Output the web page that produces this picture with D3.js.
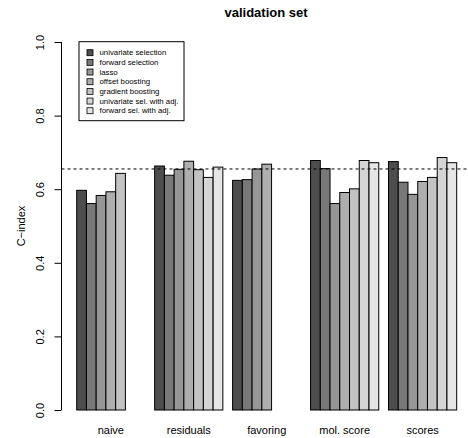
<!DOCTYPE html>
<html>
<head>
<meta charset="utf-8">
<script src="https://cdn.jsdelivr.net/npm/d3@7"></script>
<style>
  body { margin: 0; background: #fff; }
  svg { display: block; font-family: "Liberation Sans", Arial, sans-serif; }
</style>
</head>
<body>
<div id="chart"></div>
<script>
// groups on the x axis
const groups = ["naive", "residuals", "favoring", "mol. score", "scores"];
// methods (one bar per method in each group)
const methods = [
    "univariate selection", "forward selection", "lasso", "offset boosting",
    "gradient boosting", "univariate sel. with adj.", "forward sel. with adj."
];
const greys = ["#4d4d4d", "#787878", "#969696", "#aeaeae", "#c3c3c3", "#d5d5d5", "#e6e6e6"];
// C-index per group, null = method not available
const naive     = [0.597, 0.561, 0.583, 0.593, 0.643, null, null];
const residuals = [0.663, 0.638, 0.654, 0.676, 0.653, 0.632, 0.660];
const favoring  = [0.624, 0.626, 0.655, 0.668, null, null, null];
const molScore  = [0.678, 0.656, 0.561, 0.591, 0.601, 0.678, 0.672];
const scores    = [0.675, 0.619, 0.586, 0.621, 0.632, 0.686, 0.672];
const reference = 0.655;
const yTicks = [0, 0.2, 0.4, 0.6, 0.8, 1.0];

const values = [naive, residuals, favoring, molScore, scores];

const W = 468, H = 438;
const svg = d3.select("#chart").append("svg")
    .attr("width", W).attr("height", H);

// bar units: each group = 1 unit gap + 7 bars
const x = d3.scaleLinear().domain([1, 40]).range([76.7, 456.7]);
const y = d3.scaleLinear().domain([0, 1]).range([410, 42]);
const plotLeft = x(-0.56), plotRight = x(41.56);

// title
svg.append("text")
    .attr("x", 266).attr("y", 17)
    .attr("text-anchor", "middle")
    .style("font-weight", "bold").style("font-size", "13px")
    .text("validation set");

// bars
const bars = [];
values.forEach((vals, g) => {
    vals.forEach((v, i) => {
        if (v == null) return;
        bars.push({ g, i, v });
    });
});
svg.append("g").selectAll("rect")
    .data(bars)
    .join("rect")
    .attr("x", d => x(1 + 8 * d.g + d.i))
    .attr("width", d => x(2 + 8 * d.g + d.i) - x(1 + 8 * d.g + d.i))
    .attr("y", d => y(d.v))
    .attr("height", d => y(0) - y(d.v))
    .attr("fill", d => greys[d.i])
    .attr("stroke", "#000")
    .attr("stroke-width", 1);

// group labels
svg.append("g").selectAll("text")
    .data(groups)
    .join("text")
    .attr("x", (d, g) => x(1 + 8 * g + 3.5))
    .attr("y", 434)
    .attr("text-anchor", "middle")
    .style("font-size", "11px")
    .text(d => d);

// y axis
const yAxis = svg.append("g")
    .attr("transform", `translate(${plotLeft},0)`)
    .call(d3.axisLeft(y).tickValues(yTicks).tickFormat(d3.format(".1f")).tickSize(7).tickPadding(5));
yAxis.select(".domain").attr("d", `M0,${y(0)}V${y(1)}`).attr("stroke", "#000");
yAxis.selectAll(".tick line").attr("stroke", "#000");
yAxis.selectAll(".tick text")
    .attr("transform", "rotate(-90)")
    .attr("x", 0).attr("y", -21)
    .attr("dy", "0.35em")
    .attr("text-anchor", "middle")
    .style("font-size", "11px")
    .attr("fill", "#000")
    .attr("font-family", "Liberation Sans, Arial, sans-serif");

svg.append("text")
    .attr("transform", `translate(25,${y(0.5)}) rotate(-90)`)
    .attr("text-anchor", "middle")
    .style("font-size", "11px")
    .text("C\u2212index");

// reference line
svg.append("line")
    .attr("x1", plotLeft).attr("x2", Math.min(plotRight, W))
    .attr("y1", y(reference)).attr("y2", y(reference))
    .attr("stroke", "#000")
    .attr("stroke-dasharray", "3,3");

// legend
const legend = svg.append("g").attr("transform", "translate(79,41.7)");
legend.append("rect")
    .attr("width", 105).attr("height", 79)
    .attr("fill", "#fff").attr("stroke", "#000");
const rows = legend.selectAll("g.row")
    .data(methods)
    .join("g")
    .attr("class", "row")
    .attr("transform", (d, i) => `translate(0,${11 + i * 9.67})`);
rows.append("rect")
    .attr("x", 8).attr("y", -3).attr("width", 6).attr("height", 6)
    .attr("fill", (d, i) => greys[i]).attr("stroke", "#000").attr("stroke-width", 0.8);
rows.append("text")
    .attr("x", 20.5).attr("dy", "0.35em")
    .style("font-size", "7.8px")
    .text(d => d);
</script>
</body>
</html>
